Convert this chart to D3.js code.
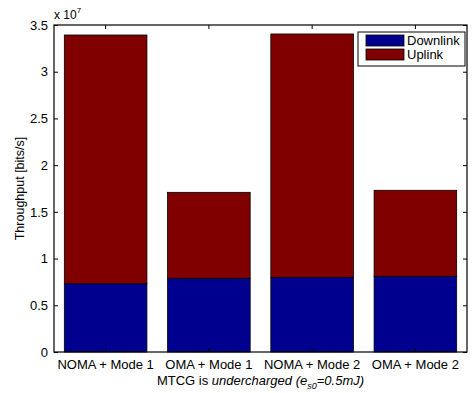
<!DOCTYPE html>
<html lang="en">
<head>
<meta charset="UTF-8">
<script src="https://cdn.jsdelivr.net/npm/d3@7"></script>
<style>
  body { margin: 0; background: #fff; }
  text { font-family: "Liberation Sans", Arial, sans-serif; }
</style>
</head>
<body>
<svg id="chart" width="473" height="393"></svg>
<script>
// chart values (units of 1e7 bits/s)
var categories = ["NOMA + Mode 1", "OMA + Mode 1", "NOMA + Mode 2", "OMA + Mode 2"];
var downlink = [0.731, 0.789, 0.800, 0.810];
var uplink = [2.662, 0.920, 2.604, 0.921];
var seriesNames = ["Downlink", "Uplink"];
var seriesColors = ["#00008f", "#800000"];
var yTicks = [0, 0.5, 1, 1.5, 2, 2.5, 3, 3.5];

var margin = { left: 54, right: 6, top: 25, bottom: 41 };
var width = 473, height = 393;

var svg = d3.select("#chart");

var x = d3.scaleBand()
  .domain(categories)
  .range([margin.left, width - margin.right])
  .paddingInner(0.2)
  .paddingOuter(0.1);

var y = d3.scaleLinear()
  .domain([0, 3.5])
  .range([height - margin.bottom, margin.top]);

// stacked data
var rows = categories.map(function(c, i) {
  return { cat: c, Downlink: downlink[i], Uplink: uplink[i] };
});
var stack = d3.stack().keys(seriesNames)(rows);

svg.append("g").selectAll("g")
  .data(stack)
  .enter().append("g")
  .attr("fill", function(d, i) { return seriesColors[i]; })
  .selectAll("rect")
  .data(function(d) { return d; })
  .enter().append("rect")
  .attr("x", function(d) { return x(d.data.cat); })
  .attr("y", function(d) { return y(d[1]); })
  .attr("width", x.bandwidth())
  .attr("height", function(d) { return y(d[0]) - y(d[1]); })
  .attr("stroke", "#000")
  .attr("stroke-width", 0.8);

// axes (inner ticks, box)
var xa = margin.left, xb = width - margin.right;
var ya = height - margin.bottom, yb = margin.top;

var axLeft = svg.append("g")
  .attr("transform", "translate(" + xa + ",0)")
  .call(d3.axisLeft(y).tickValues(yTicks).tickSize(-4).tickPadding(6)
    .tickFormat(function(d) { return d3.format("")(d); }));
var axRight = svg.append("g")
  .attr("transform", "translate(" + xb + ",0)")
  .call(d3.axisRight(y).tickValues(yTicks).tickSize(-4).tickFormat(""));
var axBottom = svg.append("g")
  .attr("transform", "translate(0," + ya + ")")
  .call(d3.axisBottom(x).tickSize(-4).tickPadding(8));
var axTop = svg.append("g")
  .attr("transform", "translate(0," + yb + ")")
  .call(d3.axisTop(x).tickSize(-4).tickFormat(""));

[axLeft, axRight, axBottom, axTop].forEach(function(g) {
  g.select(".domain").remove();
  g.selectAll("line").attr("stroke", "#000");
  g.selectAll("text").attr("font-size", 13).attr("fill", "#000")
    .style("font-family", "'Liberation Sans', Arial, sans-serif");
});

svg.append("rect")
  .attr("x", xa).attr("y", yb)
  .attr("width", xb - xa).attr("height", ya - yb)
  .attr("fill", "none").attr("stroke", "#000").attr("stroke-width", 1.2);

// exponent label
var ex = svg.append("text").attr("x", 54).attr("y", 19).attr("font-size", 12);
ex.append("tspan").text("x 10");
ex.append("tspan").attr("font-size", 8).attr("dy", -6).text("7");

// y label
svg.append("text")
  .attr("transform", "translate(24," + ((ya + yb) / 2) + ") rotate(-90)")
  .attr("text-anchor", "middle")
  .attr("font-size", 12.5)
  .text("Throughput [bits/s]");

// x label
var xl = svg.append("text")
  .attr("x", (xa + xb) / 2).attr("y", 385)
  .attr("text-anchor", "middle")
  .attr("font-size", 13);
xl.append("tspan").text("MTCG is ");
xl.append("tspan").attr("font-style", "italic").text("undercharged (e");
xl.append("tspan").attr("font-style", "italic").attr("font-size", 9).attr("dy", 4).text("s0");
xl.append("tspan").attr("font-style", "italic").attr("dy", -4).text("=0.5mJ)");

// legend
var lg = svg.append("g").attr("transform", "translate(358,32)");
lg.append("rect").attr("width", 107).attr("height", 34)
  .attr("fill", "#fff").attr("stroke", "#000").attr("stroke-width", 1);
seriesNames.forEach(function(n, i) {
  lg.append("rect")
    .attr("x", 8).attr("y", 3 + i * 14)
    .attr("width", 38).attr("height", 11)
    .attr("fill", seriesColors[i]).attr("stroke", "#000").attr("stroke-width", 0.8);
  lg.append("text")
    .attr("x", 49).attr("y", 13 + i * 14)
    .attr("font-size", 13)
    .text(n);
});
</script>
</body>
</html>
